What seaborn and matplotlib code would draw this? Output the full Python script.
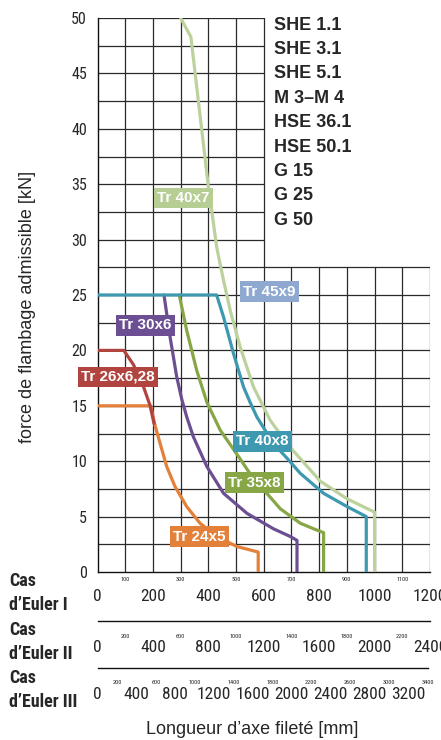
import matplotlib
matplotlib.use('Agg')
import matplotlib.pyplot as plt
import matplotlib.ticker as mticker
from matplotlib import font_manager as fm
import seaborn as sns
import pandas as pd
import numpy as np

# courbes : longueur (cas d'Euler I) [mm] / force de flambage [kN]
tr24x5_x = [0, 192, 208, 226, 250, 280, 322, 370, 431, 503, 580, 580]
tr24x5_y = [15, 15, 13.2, 11.6, 9.5, 7.7, 5.9, 4.4, 3.2, 2.3, 1.8, 0]

tr26x6_x = [0, 95, 130, 165, 190, 204]
tr26x6_y = [20, 20, 18.7, 16.8, 15.0, 13.4]

tr30x6_x = [240, 262, 286, 304, 322, 346, 395, 455, 539, 635, 696, 720, 720]
tr30x6_y = [25, 21.2, 17.6, 15.6, 14.0, 12.2, 9.5, 7.1, 5.3, 3.9, 3.2, 2.85, 0]

tr35x8_x = [295, 322, 358, 395, 443, 515, 563, 611, 660, 732, 780, 816, 816]
tr35x8_y = [25, 21.8, 18.2, 15.3, 12.8, 10.2, 8.4, 7.1, 5.7, 4.4, 3.9, 3.55, 0]

tr40x8_x = [0, 430, 455, 491, 527, 551, 575, 635, 690, 732, 816, 901, 970, 970]
tr40x8_y = [25, 25, 23.0, 19.7, 16.7, 15.3, 14.0, 11.6, 10.1, 8.9, 7.1, 5.9, 5.0, 0]

tr40x7_x = [300, 337, 400, 431, 455, 479, 515, 563, 623, 684, 708, 804, 901, 1000, 1000]
tr40x7_y = [50, 48.3, 34.8, 29.2, 26.3, 23.6, 20.3, 16.7, 13.7, 11.6, 10.9, 8.2, 6.6, 5.4, 0]

series = ['Tr 24x5', 'Tr 26x6,28', 'Tr 30x6', 'Tr 35x8', 'Tr 40x8', 'Tr 40x7']
colors = ['#e3803a', '#b1443f', '#6b4f92', '#87a646', '#3e98b0', '#bcd29c']

# étiquettes (texte, x, y, couleur)
lbl_text = ['Tr 40x7', 'Tr 45x9', 'Tr 30x6', 'Tr 26x6,28', 'Tr 40x8', 'Tr 35x8', 'Tr 24x5']
lbl_x = [309, 621, 172, 74, 596, 566, 367]
lbl_y = [33.75, 25.3, 22.25, 17.6, 11.8, 8.05, 3.2]
lbl_col = ['#b6cd93', '#8ea8cf', '#6b4f92', '#b1443f', '#3e98b0', '#87a646', '#e3803a']

models = ['SHE 1.1', 'SHE 3.1', 'SHE 5.1', 'M 3\u2013M 4', 'HSE 36.1', 'HSE 50.1',
          'G 15', 'G 25', 'G 50']

euler1_max, euler2_max, euler3_max = 1200, 2400, 3400

rows = []
for name, xs, ys in zip(series,
                        [tr24x5_x, tr26x6_x, tr30x6_x, tr35x8_x, tr40x8_x, tr40x7_x],
                        [tr24x5_y, tr26x6_y, tr30x6_y, tr35x8_y, tr40x8_y, tr40x7_y]):
    for i, (a, b) in enumerate(zip(xs, ys)):
        rows.append({'serie': name, 'ordre': i, 'longueur': a, 'force': b})
df = pd.DataFrame(rows)

# police étroite : on prend la première disponible
narrow_family, narrow_stretch, scale = 'Roboto', 'normal', 0.8
entries = fm.fontManager.ttflist
for cand in ['Roboto Condensed', 'Liberation Sans Narrow', 'Open Sans Condensed',
             'Noto Sans Condensed', 'DejaVu Sans']:
    hits = [f for f in entries if f.name == cand and str(f.stretch) in
            ('condensed', 'semi-condensed', 'extra-condensed', '500', '300', '400')
            and (cand != 'DejaVu Sans' or str(f.stretch) != 'normal')]
    if hits:
        narrow_family, narrow_stretch = cand, 'condensed'
        scale = 0.9 if cand == 'DejaVu Sans' else 1.0
        break

sns.set_style('white')
plt.rcParams['font.family'] = [narrow_family, 'DejaVu Sans']
plt.rcParams['font.stretch'] = narrow_stretch
wide = ['Liberation Sans', 'DejaVu Sans']

W, H = 441, 740
fig = plt.figure(figsize=(W / 100, H / 100), dpi=100)

x0, x1 = 97.5, 430
ytop, ybot = 18, 572
ax = fig.add_axes([x0 / W, 1 - ybot / H, (x1 - x0) / W, (ybot - ytop) / H])
ax.set_xlim(0, euler1_max)
ax.set_ylim(0, 50)

# quadrillage (partie haute droite laissée vide)
gcol = '#2a2a2a'
for gx in np.arange(100, euler1_max + 1, 100):
    top = 50 if gx <= 600 else 27.5
    ax.plot([gx, gx], [0, top], color=gcol, lw=0.9, zorder=1)
for gy in np.arange(2.5, 50.1, 2.5):
    right = euler1_max if gy <= 27.5 else 600
    ax.plot([0, right], [gy, gy], color=gcol, lw=0.9, zorder=1)

sns.lineplot(data=df, x='longueur', y='force', hue='serie', units='serie',
             estimator=None, sort=False, palette=dict(zip(series, colors)),
             linewidth=2.3, legend=False, ax=ax, zorder=3)

for t, lx, ly, c in zip(lbl_text, lbl_x, lbl_y, lbl_col):
    ax.text(lx, ly, t, ha='center', va='center', color='white', fontsize=11,
            fontweight='bold', family=wide, fontstretch='normal', zorder=5,
            bbox=dict(facecolor=c, edgecolor='none', pad=2.4))

for i, m in enumerate(models):
    ax.text(638, 49.35 - i * 2.2, m, ha='left', va='center', fontsize=13,
            fontweight='bold', family=wide, fontstretch='normal')

for s in ['top', 'right']:
    ax.spines[s].set_visible(False)
for s in ['left', 'bottom']:
    ax.spines[s].set_color('#111111')
    ax.spines[s].set_linewidth(1.0)

big, small = 12.5 * scale, 4.5
ax.yaxis.set_major_locator(mticker.MultipleLocator(5))
ax.tick_params(axis='y', which='major', length=6, width=0.9, pad=1.5,
               labelsize=11.5 * scale, color='#111111')
ax.xaxis.set_major_locator(mticker.MultipleLocator(200))
ax.xaxis.set_minor_locator(mticker.FixedLocator(np.arange(100, euler1_max, 200)))
ax.xaxis.set_minor_formatter(mticker.FormatStrFormatter('%d'))
ax.tick_params(axis='x', which='major', length=4.5, width=0.9, pad=8, labelsize=big)
ax.tick_params(axis='x', which='minor', length=3, width=0.9, pad=0.5, labelsize=small)
ax.set_xlabel('')
ax.set_ylabel('')


def euler_axis(ypix, xmax, right_pix):
    a = fig.add_axes([x0 / W, 1 - ypix / H, (right_pix - x0) / W, 0.0001])
    a.set_xlim(0, xmax)
    a.set_yticks([])
    for s in ['top', 'right', 'left']:
        a.spines[s].set_visible(False)
    a.spines['bottom'].set_color('#111111')
    a.spines['bottom'].set_linewidth(1.0)
    a.patch.set_alpha(0)
    a.xaxis.set_major_locator(mticker.MultipleLocator(400))
    a.xaxis.set_minor_locator(mticker.FixedLocator(np.arange(200, xmax + 1, 400)))
    a.xaxis.set_minor_formatter(mticker.FormatStrFormatter('%d'))
    a.tick_params(axis='x', which='major', length=8.5, width=0.9, pad=5.5, labelsize=big)
    a.tick_params(axis='x', which='minor', length=4.5, width=0.9, pad=4.5, labelsize=small)
    return a


euler_axis(621, euler2_max, 430)
euler_axis(668, euler3_max, 428)

cas_kw = dict(fontsize=13 * scale, fontweight='bold', ha='left', va='baseline')
for ypix, cas in [(586, 'I'), (635, 'II'), (683, 'III')]:
    fig.text(9 / W, 1 - ypix / H, 'Cas', **cas_kw)
    fig.text(9 / W, 1 - (ypix + 24) / H, "d\u2019Euler " + cas, **cas_kw)

fig.text(252 / W, 1 - 729 / H, 'Longueur d\u2019axe filet\u00e9 [mm]', ha='center',
         va='center', fontsize=13, family=wide, fontstretch='normal')
fig.text(28 / W, 1 - 307 / H, 'force de flambage admissible [kN]', ha='center',
         va='center', rotation=90, fontsize=13, family=wide, fontstretch='normal')

fig.savefig('out.png', dpi=100)
